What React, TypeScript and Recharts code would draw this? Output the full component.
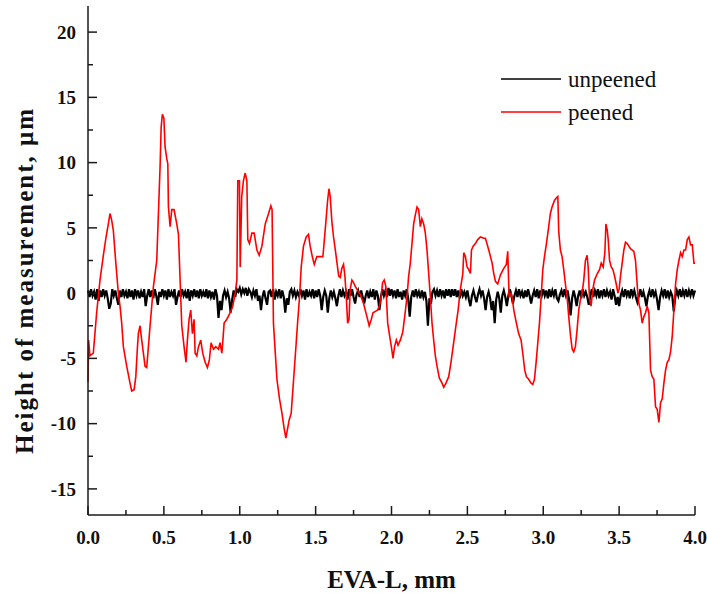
import { LineChart, Line, XAxis, YAxis, Legend, Label } from "recharts"

// surface profile, sampled every 0.01 mm (unpeened)
const unpeenedStep = 0.01
const unpeenedHeights = [
  0.2, -0.3, 0.3, -0.2, 0.1, -0.5, 0.3, -0.6, 0.2, -0.3, 0.3, -0.2, 0.2, -0.4, -1.2, -0.8, 0.3, -0.2, 0.2, -0.4,
  -0.9, 0.2, -0.3, 0.3, -0.2, 0.1, -0.4, 0.3, -0.3, 0.2, -0.5, 0.3, -0.2, 0.2, -0.4, 0.1, -0.3, 0.3, -1.0, -0.2,
  0.3, -0.3, 0.2, -0.4, 0.3, -0.2, -0.9, 0.1, -0.3, 0.3, -0.2, 0.2, -0.5, 0.3, -0.3, 0.1, -0.2, 0.3, -0.9, -0.3,
  0.2, -0.3, 0.3, -0.2, 0.1, -0.4, 0.3, -0.6, 0.2, -0.2, 0.3, -0.3, 0.2, -0.4, 0.3, -0.2, 0.1, -0.3, 0.3, -0.4,
  0.2, -0.3, 0.1, -0.5, 0.3, -0.2, -1.9, -0.6, -1.3, -0.2, 0.2, -0.3, 0.1, -0.4, -1.5, -0.5, 0.2, -0.3, 0.3, 0.1,
  0.4, -0.1, 0.3, 0.0, 0.4, -0.2, 0.3, 0.1, -0.3, 0.2, -0.2, 0.3, -0.6, -0.2, -1.3, -0.3, 0.2, -0.4, -0.9, 0.1,
  0.2, -0.3, 0.3, -0.5, 0.1, -0.2, 0.3, -0.4, 0.2, -0.3, -1.5, -0.4, -0.9, 0.1, 0.3, -0.2, 0.2, -0.3, 0.1, -0.2,
  0.3, -0.2, 0.2, -0.5, 0.3, -0.3, 0.1, -0.2, 0.3, -0.4, 0.2, -0.3, 0.3, -0.2, -1.3, -0.3, 0.2, -0.2, -1.5, -0.4,
  0.2, -0.3, 0.1, -0.4, -1.0, -0.2, 0.3, -0.3, 0.2, -0.2, 0.1, -0.5, 0.3, -0.2, 0.3, -0.3, -0.8, -0.1, 0.2, -0.3,
  0.2, -0.3, -0.8, -0.2, 0.2, -0.4, 0.1, -0.3, 0.3, -0.5, 0.2, -0.2, -1.3, -0.3, 0.3, -0.2, 0.2, -0.3, 0.4, -0.2,
  0.3, -0.2, 0.2, -0.4, 0.3, -0.3, 0.1, -0.5, 0.2, -0.2, 0.3, -0.4, -1.8, -0.3, 0.2, -0.3, 0.3, -0.2, 0.1, -0.4,
  0.2, -0.3, 0.1, -0.6, -2.5, -0.4, -0.8, 0.1, 0.3, -0.2, 0.2, -0.3, 0.3, -0.2, 0.2, -0.4, 0.3, -0.2, 0.3, -0.3,
  0.3, -0.2, 0.3, -0.3, 0.2, -0.4, 0.3, -0.2, 0.1, -0.3, 0.2, -0.5, -1.0, -0.2, 0.2, -0.3, -0.7, -0.1, 0.3, -0.2,
  0.2, -0.4, -1.3, -0.3, 0.1, -0.4, -1.3, -0.6, -2.3, -0.5, 0.1, -0.4, -1.5, -0.2, 0.2, -0.3, -1.0, -0.2, 0.3, -0.2,
  -0.8, -0.2, 0.2, -0.3, 0.3, -0.2, 0.1, -0.4, 0.2, -0.3, 0.3, -0.2, -0.8, -0.2, 0.2, -0.3, 0.3, -0.4, 0.2, -0.2,
  0.3, -0.2, 0.2, -0.4, 0.3, -0.3, 0.2, -0.2, 0.3, -0.4, -0.6, -0.1, 0.2, -0.3, 0.3, -0.2, 0.2, -0.5, -1.7, -0.4,
  0.2, -0.3, -1.0, -0.2, 0.2, -0.4, 0.3, -0.2, 0.1, -0.3, -0.9, -0.2, 0.3, -0.3, 0.2, -0.2, 0.3, -0.4, 0.2, -0.2,
  0.3, -0.3, 0.2, -0.2, 0.1, -0.5, 0.3, -0.2, -0.9, -0.3, -1.0, -0.2, 0.2, -0.3, 0.3, -0.2, 0.2, -0.4, 0.3, -0.2,
  0.2, -0.3, -0.7, -0.2, 0.3, -0.3, 0.1, -0.4, -1.0, -0.2, 0.2, -0.3, 0.3, -0.2, 0.1, -0.5, -1.3, -0.3, 0.2, -0.2,
  0.3, -0.4, 0.2, -0.3, 0.1, -0.2, -1.4, -0.3, 0.2, -0.2, 0.3, -0.3, 0.2, -0.2, 0.3, -0.3, 0.2, -0.2, 0.3, -0.2,
  0.2,
]

// peened profile as [position mm, height µm]
const peenedProfile: [number, number][] = [
  [0.0, -6.8], [0.004, -3.6], [0.013, -4.8], [0.035, -4.6], [0.057, -1.5], [0.079, 1.0],
  [0.1, 2.8], [0.119, 4.3], [0.134, 5.3], [0.145, 6.1], [0.156, 5.6], [0.167, 4.8],
  [0.178, 3.1], [0.189, 1.5], [0.2, 0.0], [0.211, -1.0], [0.222, -2.3], [0.233, -4.1],
  [0.255, -5.6], [0.277, -6.9], [0.288, -7.5], [0.304, -7.4], [0.315, -6.4], [0.326, -4.1],
  [0.332, -3.1], [0.343, -2.5], [0.354, -3.6], [0.365, -4.6], [0.376, -5.6], [0.387, -5.7],
  [0.398, -4.1], [0.409, -2.5], [0.42, -1.0], [0.431, 0.5], [0.453, 2.5], [0.464, 6.1],
  [0.475, 9.7], [0.482, 12.7], [0.49, 13.7], [0.5, 13.4], [0.508, 11.2], [0.519, 10.3],
  [0.526, 9.9], [0.53, 6.6], [0.541, 5.1], [0.552, 6.4], [0.567, 6.4], [0.585, 5.3],
  [0.596, 4.5], [0.607, 1.0], [0.618, -2.5], [0.633, -4.1], [0.646, -5.3], [0.655, -3.6],
  [0.666, -2.0], [0.677, -1.3], [0.688, -3.1], [0.699, -2.0], [0.706, -4.6], [0.717, -4.8],
  [0.728, -4.1], [0.743, -3.6], [0.756, -4.6], [0.772, -5.3], [0.787, -5.7], [0.8, -5.1],
  [0.811, -3.8], [0.827, -4.3], [0.842, -4.1], [0.86, -4.3], [0.87, -3.8], [0.882, -4.6],
  [0.889, -3.6], [0.897, -2.3], [0.915, -2.0], [0.937, -1.5], [0.954, -1.0], [0.97, 0.0],
  [0.981, 1.0], [0.987, 8.6], [0.998, 8.6], [1.003, 2.0], [1.013, 7.4], [1.024, 8.6],
  [1.036, 9.2], [1.047, 8.6], [1.053, 4.1], [1.064, 3.8], [1.08, 4.6], [1.095, 4.6],
  [1.113, 3.3], [1.128, 2.9], [1.146, 3.6], [1.168, 5.3], [1.19, 6.1], [1.205, 6.7],
  [1.213, 6.4], [1.222, -2.3], [1.245, -6.6], [1.262, -8.1], [1.278, -9.2], [1.293, -10.4],
  [1.304, -11.1], [1.315, -10.4], [1.326, -9.7], [1.339, -9.2], [1.35, -7.4], [1.361, -5.6],
  [1.372, -3.8], [1.381, -2.3], [1.394, -0.3], [1.405, 2.0], [1.42, 3.6], [1.438, 4.3],
  [1.453, 4.5], [1.464, 3.6], [1.478, 2.8], [1.491, 2.2], [1.508, 2.8], [1.53, 2.8],
  [1.548, 2.8], [1.559, 4.3], [1.57, 5.8], [1.579, 7.1], [1.588, 8.0], [1.596, 7.4],
  [1.607, 5.5], [1.618, 4.3], [1.63, 3.3], [1.641, 2.3], [1.652, 1.3], [1.662, 1.2],
  [1.673, 1.9], [1.684, 2.2], [1.693, 1.3], [1.702, -0.3], [1.711, -2.3], [1.72, -2.0],
  [1.728, 0.3], [1.739, 1.0], [1.75, 0.8], [1.762, 0.5], [1.777, 0.2], [1.794, -0.1],
  [1.816, -0.8], [1.838, -1.8], [1.853, -2.5], [1.867, -2.0], [1.878, -1.5], [1.894, -1.4],
  [1.908, -1.3], [1.92, -1.0], [1.932, -0.3], [1.941, 0.8], [1.952, 1.0], [1.963, 0.5],
  [1.975, -2.3], [1.988, -3.3], [1.999, -4.1], [2.01, -5.0], [2.02, -4.1], [2.032, -3.6],
  [2.043, -4.0], [2.058, -3.6], [2.074, -3.0], [2.087, -1.8], [2.102, -0.3], [2.113, 1.3],
  [2.124, 2.3], [2.135, 3.8], [2.146, 5.3], [2.157, 6.0], [2.168, 6.6], [2.179, 6.4],
  [2.19, 5.1], [2.2, 5.7], [2.212, 5.3], [2.223, 4.6], [2.234, 3.3], [2.245, 1.5],
  [2.256, -0.3], [2.267, -2.3], [2.278, -3.6], [2.289, -4.8], [2.3, -5.6], [2.315, -6.5],
  [2.333, -6.9], [2.344, -7.2], [2.359, -6.9], [2.377, -6.4], [2.392, -5.3], [2.406, -4.1],
  [2.421, -2.8], [2.439, -1.3], [2.454, 0.3], [2.47, 1.5], [2.476, 3.1], [2.487, 2.8],
  [2.498, 2.0], [2.509, 1.8], [2.52, 1.5], [2.527, 3.3], [2.538, 3.6], [2.553, 3.8],
  [2.568, 4.1], [2.586, 4.3], [2.608, 4.2], [2.619, 4.2], [2.641, 3.3], [2.663, 2.3],
  [2.674, 1.5], [2.685, 0.9], [2.7, 0.7], [2.718, 1.4], [2.74, 1.9], [2.757, 2.2],
  [2.766, 3.2], [2.775, -0.3], [2.788, 0.0], [2.797, -0.5], [2.806, -1.3], [2.823, -2.3],
  [2.838, -3.1], [2.854, -3.6], [2.867, -4.8], [2.878, -5.9], [2.889, -6.4], [2.904, -6.6],
  [2.92, -6.9], [2.931, -7.0], [2.942, -6.6], [2.953, -5.3], [2.964, -3.8], [2.975, -2.3],
  [2.986, -0.3], [2.997, 1.8], [3.008, 2.8], [3.021, 3.8], [3.036, 5.1], [3.047, 6.1],
  [3.058, 6.6], [3.074, 7.1], [3.087, 7.3], [3.096, 7.4], [3.102, 4.7], [3.113, 3.3],
  [3.124, 2.8], [3.135, 1.8], [3.146, 0.7], [3.157, -0.3], [3.168, -1.8], [3.18, -3.3],
  [3.191, -4.3], [3.201, -4.5], [3.212, -4.1], [3.223, -2.8], [3.234, -1.3], [3.245, -0.5],
  [3.256, 0.0], [3.267, 1.0], [3.278, 2.5], [3.289, 2.9], [3.296, 2.0], [3.305, -0.5],
  [3.315, -1.0], [3.327, 0.3], [3.338, 1.0], [3.356, 1.5], [3.371, 1.8], [3.382, 2.3],
  [3.395, 2.0], [3.406, 3.1], [3.413, 5.3], [3.422, 4.8], [3.428, 4.1], [3.437, 2.5],
  [3.448, 2.0], [3.459, 1.8], [3.47, 1.3], [3.481, 0.7], [3.492, 0.0], [3.5, 0.3],
  [3.509, 1.3], [3.52, 2.3], [3.531, 3.3], [3.542, 3.9], [3.553, 3.8], [3.575, 3.4],
  [3.597, 3.2], [3.608, 2.5], [3.615, 1.3], [3.623, 0.0], [3.63, -0.8], [3.641, -1.3],
  [3.652, -2.3], [3.663, -1.8], [3.674, -1.5], [3.685, -1.0], [3.696, -1.5], [3.707, -5.9],
  [3.718, -6.4], [3.729, -6.6], [3.74, -8.7], [3.751, -8.9], [3.762, -9.9], [3.773, -8.4],
  [3.784, -8.1], [3.795, -6.9], [3.806, -5.9], [3.817, -5.3], [3.828, -5.1], [3.839, -4.5],
  [3.85, -3.3], [3.861, -1.3], [3.872, 0.7], [3.883, 1.8], [3.894, 2.5], [3.905, 3.1],
  [3.916, 2.8], [3.927, 3.3], [3.938, 3.3], [3.949, 4.1], [3.96, 4.3], [3.971, 3.7],
  [3.982, 3.7], [3.993, 2.3], [4.0, 2.3],
]

const xTicks = [0, 0.25, 0.5, 0.75, 1, 1.25, 1.5, 1.75, 2, 2.25, 2.5, 2.75, 3, 3.25, 3.5, 3.75, 4]
const yTicks = [-15, -12.5, -10, -7.5, -5, -2.5, 0, 2.5, 5, 7.5, 10, 12.5, 15, 17.5, 20]
const legendOrder = ["unpeened", "peened"]

const unpeenedData = unpeenedHeights.map((y, i) => ({ x: +(i * unpeenedStep).toFixed(3), y }))
const peenedData = peenedProfile.map(([x, y]) => ({ x, y }))

const serif = "'Liberation Serif', 'Times New Roman', serif"
const axisColor = "#1a1a1a"

function XTick(props: any) {
  const { x, y, payload } = props
  const v = payload.value
  const major = Number.isInteger(v * 2)
  return (
    <g>
      <line x1={x} x2={x} y1={y} y2={y - (major ? 9 : 5)} stroke={axisColor} strokeWidth={1.5} />
      {major && (
        <text x={x} y={y + 29} textAnchor="middle" fontFamily={serif} fontWeight="bold" fontSize={19} fill="#111">
          {v.toFixed(1)}
        </text>
      )}
    </g>
  )
}

function YTick(props: any) {
  const { x, y, payload } = props
  const v = payload.value
  const major = v % 5 === 0
  return (
    <g>
      <line x1={x} x2={x + (major ? 9 : 5)} y1={y} y2={y} stroke={axisColor} strokeWidth={1.5} />
      {major && (
        <text x={x - 12} y={y} dy="0.35em" textAnchor="end" fontFamily={serif} fontWeight="bold" fontSize={19} fill="#111">
          {v}
        </text>
      )}
    </g>
  )
}

function XTitle(props: any) {
  const vb = props.viewBox
  return (
    <text x={vb.x + vb.width / 2} y={vb.y + 73} textAnchor="middle" fontFamily={serif} fontWeight="bold" fontSize={25} fill="#111">
      EVA-L, mm
    </text>
  )
}

function YTitle(props: any) {
  const vb = props.viewBox
  const cx = vb.x + 33
  const cy = vb.y + vb.height / 2 + 20
  return (
    <text
      x={cx}
      y={cy}
      transform={`rotate(-90, ${cx}, ${cy})`}
      textAnchor="middle"
      fontFamily={serif}
      fontWeight="bold"
      fontSize={25}
      letterSpacing={2}
      fill="#111"
    >
      Height of measurement, μm
    </text>
  )
}

function LegendBox(props: any) {
  const items = [...(props.payload || [])].sort(
    (a: any, b: any) => legendOrder.indexOf(a.value) - legendOrder.indexOf(b.value)
  )
  return (
    <svg width={200} height={70}>
      {items.map((item: any, i: number) => (
        <g key={item.value}>
          <line x1={5} x2={65} y1={17 + i * 33} y2={17 + i * 33} stroke={item.color} strokeWidth={1.5} />
          <text x={72} y={25 + i * 33} fontFamily={serif} fontSize={23} fill="#111">
            {item.value}
          </text>
        </g>
      ))}
    </svg>
  )
}

export default function App() {
  return (
    <div style={{ position: "absolute", left: 0, top: 0, width: 707, height: 593, background: "#fff" }}>
      <LineChart width={707} height={593} margin={{ top: 6, right: 12, bottom: 0, left: 0 }}>
        <XAxis
          dataKey="x"
          type="number"
          domain={[0, 4]}
          ticks={xTicks}
          interval={0}
          height={78}
          tickSize={0}
          tickMargin={0}
          tickLine={false}
          tick={XTick}
          axisLine={{ stroke: axisColor, strokeWidth: 1.5 }}
        >
          <Label content={XTitle} />
        </XAxis>
        <XAxis
          xAxisId="top"
          orientation="top"
          type="number"
          domain={[0, 4]}
          height={0}
          tick={false}
          tickLine={false}
          axisLine={{ stroke: axisColor, strokeWidth: 1.5 }}
        />
        <YAxis
          type="number"
          domain={[-17, 22]}
          ticks={yTicks}
          interval={0}
          width={88}
          tickSize={0}
          tickMargin={0}
          tickLine={false}
          tick={YTick}
          allowDataOverflow
          axisLine={{ stroke: axisColor, strokeWidth: 1.5 }}
        >
          <Label content={YTitle} />
        </YAxis>
        <YAxis
          yAxisId="right"
          orientation="right"
          type="number"
          domain={[-17, 22]}
          width={0}
          tick={false}
          tickLine={false}
          axisLine={{ stroke: axisColor, strokeWidth: 1.5 }}
        />
        <Legend
          layout="horizontal"
          verticalAlign="middle"
          align="center"
          content={LegendBox}
          wrapperStyle={{ position: "absolute", left: 496, top: 62, width: 200, height: 70 }}
        />
        <Line
          data={unpeenedData}
          dataKey="y"
          name="unpeened"
          type="linear"
          stroke="#000"
          strokeWidth={2.2}
          dot={false}
          isAnimationActive={false}
        />
        <Line
          data={peenedData}
          dataKey="y"
          name="peened"
          type="linear"
          stroke="#ff0000"
          strokeWidth={1.6}
          dot={false}
          isAnimationActive={false}
        />
      </LineChart>
    </div>
  )
}
